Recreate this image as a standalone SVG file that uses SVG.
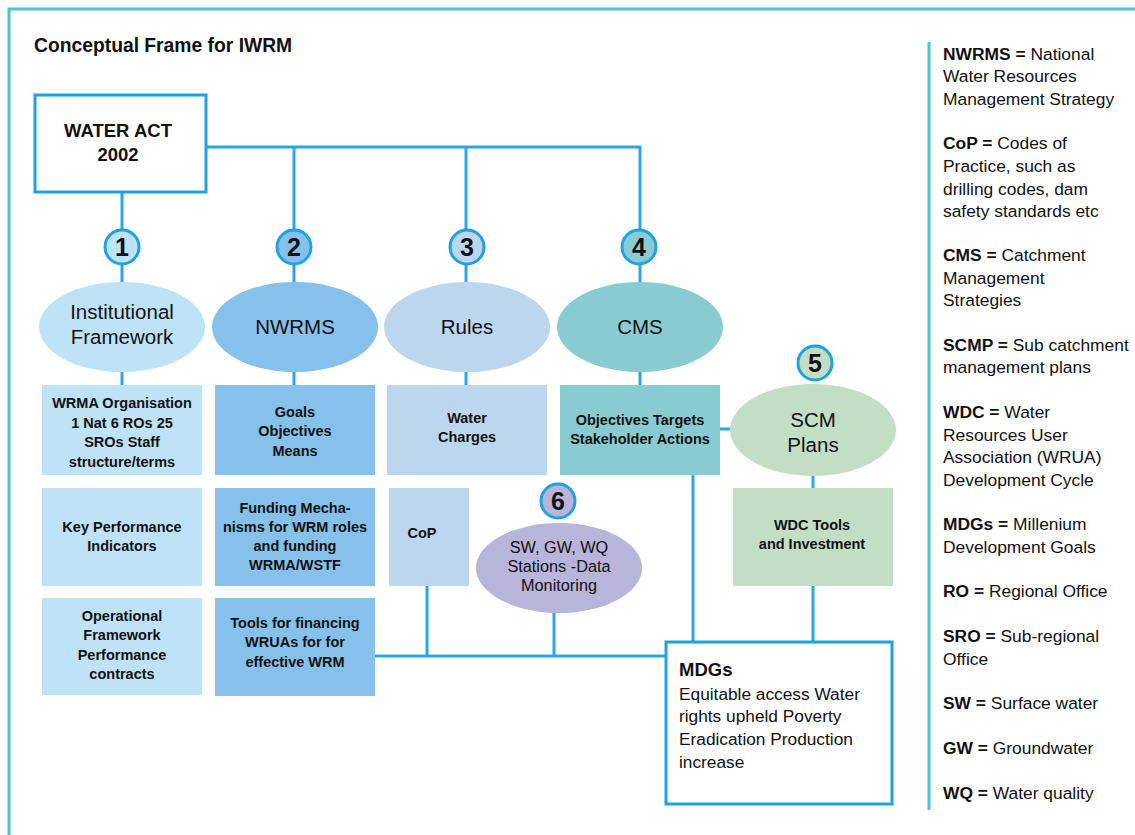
<svg xmlns="http://www.w3.org/2000/svg" width="1135" height="835" viewBox="0 0 1135 835">
<style>
.frame{stroke:#4cc6c8;stroke-width:3;fill:none}
.ln{stroke:#2aa6e2;stroke-width:3;fill:none}
.box{fill:#ffffff;stroke:#1ea3e0;stroke-width:3}
.num{stroke:#1ea3e0;stroke-width:3}
.t{font-family:"Liberation Sans",Arial,sans-serif;fill:#111}
.b{font-weight:bold}
.c{text-anchor:middle}
.ell{font-size:20.5px}
.rt{font-size:14.5px;font-weight:bold;text-anchor:middle}
.nt{font-size:25px;font-weight:bold;text-anchor:middle}
.lg{font-size:17.4px}
.c1{fill:#bee3f8}.c2{fill:#85c1ea}.c3{fill:#bdd6f0}.c4{fill:#88ccd2}.c5{fill:#c2dfc5}.c6{fill:#b9b4da}
</style>
<rect width="1135" height="835" fill="#fff"/>
<g id="frame">
<polyline class="frame" points="9,835 9,9 1135,9"/>
<line class="frame" x1="929" y1="42" x2="929" y2="810"/>
</g>
<text class="t b" x="34" y="52" font-size="19.3">Conceptual Frame for IWRM</text>
<g id="connectors">
<path class="ln" d="M206,147 H640 V385"/>
<path class="ln" d="M122,192 V385"/>
<path class="ln" d="M294,147 V385"/>
<path class="ln" d="M466,147 V385"/>
<path class="ln" d="M720,429 H731"/>
<path class="ln" d="M813,476 V488"/>
<path class="ln" d="M813,586 V642"/>
<path class="ln" d="M693,475 V642"/>
<path class="ln" d="M375,656 H666"/>
<path class="ln" d="M427,586 V656"/>
<path class="ln" d="M554,613 V656"/>
</g>
<g id="water-act">
<rect class="box" x="35" y="95" width="171" height="97"/>
<text class="t b c" x="118" y="137" font-size="18.5">WATER ACT</text>
<text class="t b c" x="118" y="161" font-size="18.5">2002</text>
</g>
<g id="n1">
<circle class="num c1" cx="122" cy="247" r="17"/>
<text class="t nt" x="122" y="256">1</text>
</g>
<g id="n2">
<circle class="num c2" cx="294" cy="247" r="17"/>
<text class="t nt" x="294" y="256">2</text>
</g>
<g id="n3">
<circle class="num c3" cx="467" cy="247" r="17"/>
<text class="t nt" x="467" y="256">3</text>
</g>
<g id="n4">
<circle class="num c4" cx="639" cy="247" r="17"/>
<text class="t nt" x="639" y="256">4</text>
</g>
<g id="n5">
<circle class="num c5" cx="815" cy="363" r="17"/>
<text class="t nt" x="815" y="372">5</text>
</g>
<g id="n6">
<circle class="num c6" cx="558" cy="501" r="17"/>
<text class="t nt" x="558" y="510">6</text>
</g>
<g id="institutional">
<ellipse class="c1" cx="122" cy="327" rx="83" ry="45"/>
<text class="t c ell" x="122" y="319">Institutional</text>
<text class="t c ell" x="122" y="344">Framework</text>
</g>
<g id="nwrms">
<ellipse class="c2" cx="295" cy="327" rx="83" ry="45"/>
<text class="t c ell" x="295" y="334">NWRMS</text>
</g>
<g id="rules">
<ellipse class="c3" cx="467" cy="327" rx="83" ry="45"/>
<text class="t c ell" x="467" y="334">Rules</text>
</g>
<g id="cms">
<ellipse class="c4" cx="640" cy="327" rx="83" ry="45"/>
<text class="t c ell" x="640" y="334">CMS</text>
</g>
<g id="scm">
<ellipse class="c5" cx="813" cy="430" rx="83" ry="46"/>
<text class="t c ell" x="813" y="427">SCM</text>
<text class="t c ell" x="813" y="452">Plans</text>
</g>
<g id="monitoring">
<ellipse class="c6" cx="559" cy="568" rx="83" ry="45"/>
<text class="t c" font-size="16.3" x="559" y="553">SW, GW, WQ</text>
<text class="t c" font-size="16.3" x="559" y="572">Stations -Data</text>
<text class="t c" font-size="16.3" x="559" y="591">Monitoring</text>
</g>
<g id="wrma-org">
<rect class="c1" x="42" y="385" width="160" height="90"/>
<text class="t rt" x="122" y="408">WRMA Organisation</text>
<text class="t rt" x="122" y="428">1 Nat 6 ROs 25</text>
<text class="t rt" x="122" y="447">SROs Staff</text>
<text class="t rt" x="122" y="467">structure/terms</text>
</g>
<g id="goals">
<rect class="c2" x="215" y="385" width="160" height="90"/>
<text class="t rt" x="295" y="417">Goals</text>
<text class="t rt" x="295" y="436">Objectives</text>
<text class="t rt" x="295" y="456">Means</text>
</g>
<g id="water-charges">
<rect class="c3" x="387" y="385" width="160" height="90"/>
<text class="t rt" x="467" y="423">Water</text>
<text class="t rt" x="467" y="442">Charges</text>
</g>
<g id="objectives">
<rect class="c4" x="560" y="385" width="160" height="90"/>
<text class="t rt" x="640" y="425">Objectives Targets</text>
<text class="t rt" x="640" y="444">Stakeholder Actions</text>
</g>
<g id="kpi">
<rect class="c1" x="42" y="488" width="160" height="98"/>
<text class="t rt" x="122" y="532">Key Performance</text>
<text class="t rt" x="122" y="551">Indicators</text>
</g>
<g id="funding">
<rect class="c2" x="215" y="488" width="160" height="98"/>
<text class="t rt" x="295" y="513">Funding Mecha-</text>
<text class="t rt" x="295" y="532">nisms for WRM roles</text>
<text class="t rt" x="295" y="551">and funding</text>
<text class="t rt" x="295" y="570">WRMA/WSTF</text>
</g>
<g id="cop">
<rect class="c3" x="389" y="488" width="80" height="98"/>
<text class="t rt" x="422" y="538">CoP</text>
</g>
<g id="wdc-tools">
<rect class="c5" x="733" y="488" width="160" height="98"/>
<text class="t rt" x="812" y="530">WDC Tools</text>
<text class="t rt" x="812" y="549">and Investment</text>
</g>
<g id="operational">
<rect class="c1" x="42" y="598" width="160" height="97"/>
<text class="t rt" x="122" y="621">Operational</text>
<text class="t rt" x="122" y="640">Framework</text>
<text class="t rt" x="122" y="660">Performance</text>
<text class="t rt" x="122" y="679">contracts</text>
</g>
<g id="tools-financing">
<rect class="c2" x="215" y="598" width="160" height="98"/>
<text class="t rt" x="295" y="628">Tools for financing</text>
<text class="t rt" x="295" y="647">WRUAs for for</text>
<text class="t rt" x="295" y="667">effective WRM</text>
</g>
<g id="mdgs">
<rect class="box" x="666" y="642" width="226" height="162"/>
<text class="t b" x="679" y="676" font-size="18.5">MDGs</text>
<text class="t" x="679" y="700" font-size="17.3">Equitable access Water</text>
<text class="t" x="679" y="722" font-size="17.3">rights upheld Poverty</text>
<text class="t" x="679" y="745" font-size="17.3">Eradication Production</text>
<text class="t" x="679" y="768" font-size="17.3">increase</text>
</g>
<g id="legend" class="t lg">
<text x="943" y="60"><tspan class="b">NWRMS =</tspan> National</text>
<text x="943" y="82">Water Resources</text>
<text x="943" y="105">Management Strategy</text>
<text x="943" y="149"><tspan class="b">CoP =</tspan> Codes of</text>
<text x="943" y="172">Practice, such as</text>
<text x="943" y="195">drilling codes, dam</text>
<text x="943" y="217">safety standards etc</text>
<text x="943" y="261"><tspan class="b">CMS =</tspan> Catchment</text>
<text x="943" y="284">Management</text>
<text x="943" y="306">Strategies</text>
<text x="943" y="351"><tspan class="b">SCMP =</tspan> Sub catchment</text>
<text x="943" y="373">management plans</text>
<text x="943" y="418"><tspan class="b">WDC =</tspan> Water</text>
<text x="943" y="441">Resources User</text>
<text x="943" y="463">Association (WRUA)</text>
<text x="943" y="486">Development Cycle</text>
<text x="943" y="530"><tspan class="b">MDGs =</tspan> Millenium</text>
<text x="943" y="553">Development Goals</text>
<text x="943" y="597"><tspan class="b">RO =</tspan> Regional Office</text>
<text x="943" y="642"><tspan class="b">SRO =</tspan> Sub-regional</text>
<text x="943" y="665">Office</text>
<text x="943" y="709"><tspan class="b">SW =</tspan> Surface water</text>
<text x="943" y="754"><tspan class="b">GW =</tspan> Groundwater</text>
<text x="943" y="799"><tspan class="b">WQ =</tspan> Water quality</text>
</g>
</svg>
